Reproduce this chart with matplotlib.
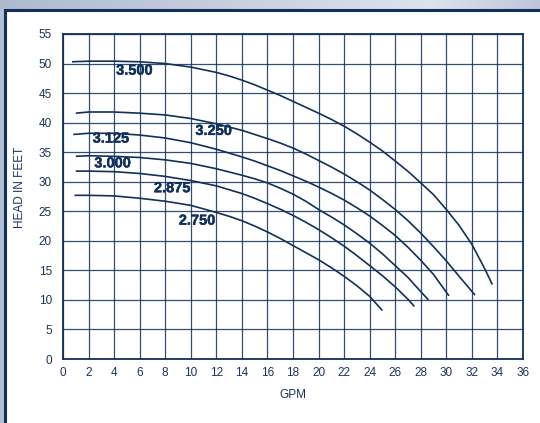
import matplotlib
matplotlib.use("Agg")
import matplotlib.pyplot as plt
import matplotlib.patheffects as pe
import numpy as np
from matplotlib.patches import Rectangle

NAVY = "#12305a"

# ---- data ----
gpm_3500 = [0.7, 2, 4, 6, 8, 10, 12, 13, 14, 15, 16, 17, 18, 19, 20, 21, 22, 23, 24, 25, 26, 27, 28, 29, 30, 31, 32, 33, 33.6]
head_3500 = [50.3, 50.4, 50.4, 50.3, 50.0, 49.4, 48.5, 47.9, 47.2, 46.4, 45.5, 44.6, 43.6, 42.6, 41.6, 40.55, 39.4, 38.1, 36.7, 35.2, 33.5, 31.75, 29.8, 27.8, 25.3, 22.6, 19.4, 15.3, 12.6]

gpm_3250 = [1.0, 2, 4, 6, 8, 10, 12, 14, 16, 17, 18, 19, 20, 21, 22, 23, 24, 25, 26, 27, 28, 29, 30, 31, 32.25]
head_3250 = [41.6, 41.8, 41.8, 41.6, 41.3, 40.7, 39.8, 38.7, 37.3, 36.55, 35.7, 34.7, 33.6, 32.5, 31.3, 30.0, 28.6, 27.0, 25.3, 23.4, 21.3, 19.0, 16.6, 14.0, 10.8]

gpm_3125 = [0.8, 2, 4, 6, 8, 10, 12, 14, 15, 16, 17, 18, 19, 20, 21, 22, 23, 24, 25, 26, 27, 28, 29, 30.2]
head_3125 = [38.0, 38.2, 38.2, 37.9, 37.4, 36.6, 35.5, 34.2, 33.5, 32.7, 31.9, 31.0, 30.1, 29.1, 28.05, 26.9, 25.6, 24.2, 22.6, 20.9, 18.9, 16.7, 14.3, 10.7]

gpm_3000 = [1.0, 2, 4, 6, 8, 10, 12, 14, 15, 16, 17, 18, 19, 20, 21, 22, 23, 24, 25, 26, 27, 28, 28.6]
head_3000 = [34.3, 34.4, 34.3, 34.1, 33.7, 33.1, 32.2, 31.1, 30.5, 29.8, 28.9, 27.9, 26.7, 25.3, 24.05, 22.7, 21.2, 19.6, 17.8, 15.8, 13.8, 11.4, 10.0]

gpm_2875 = [1.0, 2, 4, 6, 8, 10, 12, 14, 15, 16, 17, 18, 19, 20, 21, 22, 23, 24, 25, 26, 27, 27.5]
head_2875 = [31.8, 31.8, 31.7, 31.4, 30.9, 30.2, 29.3, 28.0, 27.2, 26.3, 25.35, 24.3, 23.15, 21.9, 20.55, 19.1, 17.5, 15.8, 14.1, 12.2, 10.1, 8.9]

gpm_2750 = [0.9, 2, 4, 6, 8, 10, 12, 13, 14, 15, 16, 17, 18, 19, 20, 21, 22, 23, 24, 25.0]
head_2750 = [27.7, 27.7, 27.6, 27.2, 26.7, 26.0, 24.8, 24.15, 23.4, 22.5, 21.5, 20.4, 19.2, 18.0, 16.8, 15.45, 14.0, 12.4, 10.6, 8.2]

curve_names = ["3.500", "3.250", "3.125", "3.000", "2.875", "2.750"]
label_gpm = [5.6, 11.8, 3.75, 3.9, 8.55, 10.5]
label_head = [48.8, 38.6, 37.3, 33.1, 28.9, 23.4]

x_ticks = list(range(0, 37, 2))
y_ticks = list(range(0, 56, 5))

# ---- figure ----
W, H = 540, 423
fig = plt.figure(figsize=(W / 100, H / 100), dpi=100)
fig.patch.set_facecolor("#b3bfd2")

# top gradient band
band = fig.add_axes([0, 1 - 10 / H, 1, 10 / H], zorder=-5)
grad = np.linspace(0, 1, 256)
c_left = np.array([0.68, 0.73, 0.81])
c_mid = np.array([0.86, 0.89, 0.93])
c_right = np.array([0.74, 0.78, 0.85])
cols = np.where(grad[:, None] < 0.8,
                c_left + (c_mid - c_left) * (grad[:, None] / 0.8),
                c_mid + (c_right - c_mid) * ((grad[:, None] - 0.8) / 0.2))
band.imshow(cols[None, :, :], aspect="auto", extent=[0, 1, 0, 1])
band.set_axis_off()

# white panel with navy border
panel = Rectangle((4.5 / W, -0.2), 1.3, 1.2 - 10 / H,
                  transform=fig.transFigure, facecolor="white",
                  edgecolor=NAVY, linewidth=2.2, zorder=-1)
fig.patches.append(panel)

ax = fig.add_axes([63 / W, 1 - 359 / H, 460 / W, 325 / H], zorder=2)
ax.set_facecolor("white")
ax.set_xlim(0, 36)
ax.set_ylim(0, 55)
ax.set_xticks(x_ticks)
ax.set_yticks(y_ticks)
ax.grid(True, color=NAVY, linewidth=0.9, alpha=0.85)
ax.set_axisbelow(True)
for s in ax.spines.values():
    s.set_color(NAVY)
    s.set_linewidth(1.3)
ax.tick_params(length=0, colors=NAVY, labelsize=8.5)
ax.tick_params(axis="y", pad=8)
ax.tick_params(axis="x", pad=6)
for lab in ax.get_xticklabels() + ax.get_yticklabels():
    lab.set_fontfamily("Liberation Sans")
    lab.set_color("#1b3358")

series = [(gpm_3500, head_3500), (gpm_3250, head_3250), (gpm_3125, head_3125),
          (gpm_3000, head_3000), (gpm_2875, head_2875), (gpm_2750, head_2750)]
for (gx, hy) in series:
    ax.plot(gx, hy, color=NAVY, linewidth=1.2, solid_capstyle="butt",
            solid_joinstyle="round")

for name, lx, ly in zip(curve_names, label_gpm, label_head):
    ax.text(lx, ly, name, ha="center", va="center", fontsize=10.5,
            fontweight="bold", family="Liberation Sans", color=NAVY,
            path_effects=[pe.withStroke(linewidth=0.3, foreground=NAVY)])

fig.text(20 / W, 1 - 187 / H, "HEAD IN FEET", rotation=90, ha="center",
         va="center", fontsize=8.5, family="Liberation Sans", color="#1b3358")
fig.text(293 / W, 1 - 395 / H, "GPM", ha="center", va="center",
         fontsize=8.5, family="Liberation Sans", color="#1b3358")

fig.savefig("out.png", dpi=100, facecolor=fig.get_facecolor())
